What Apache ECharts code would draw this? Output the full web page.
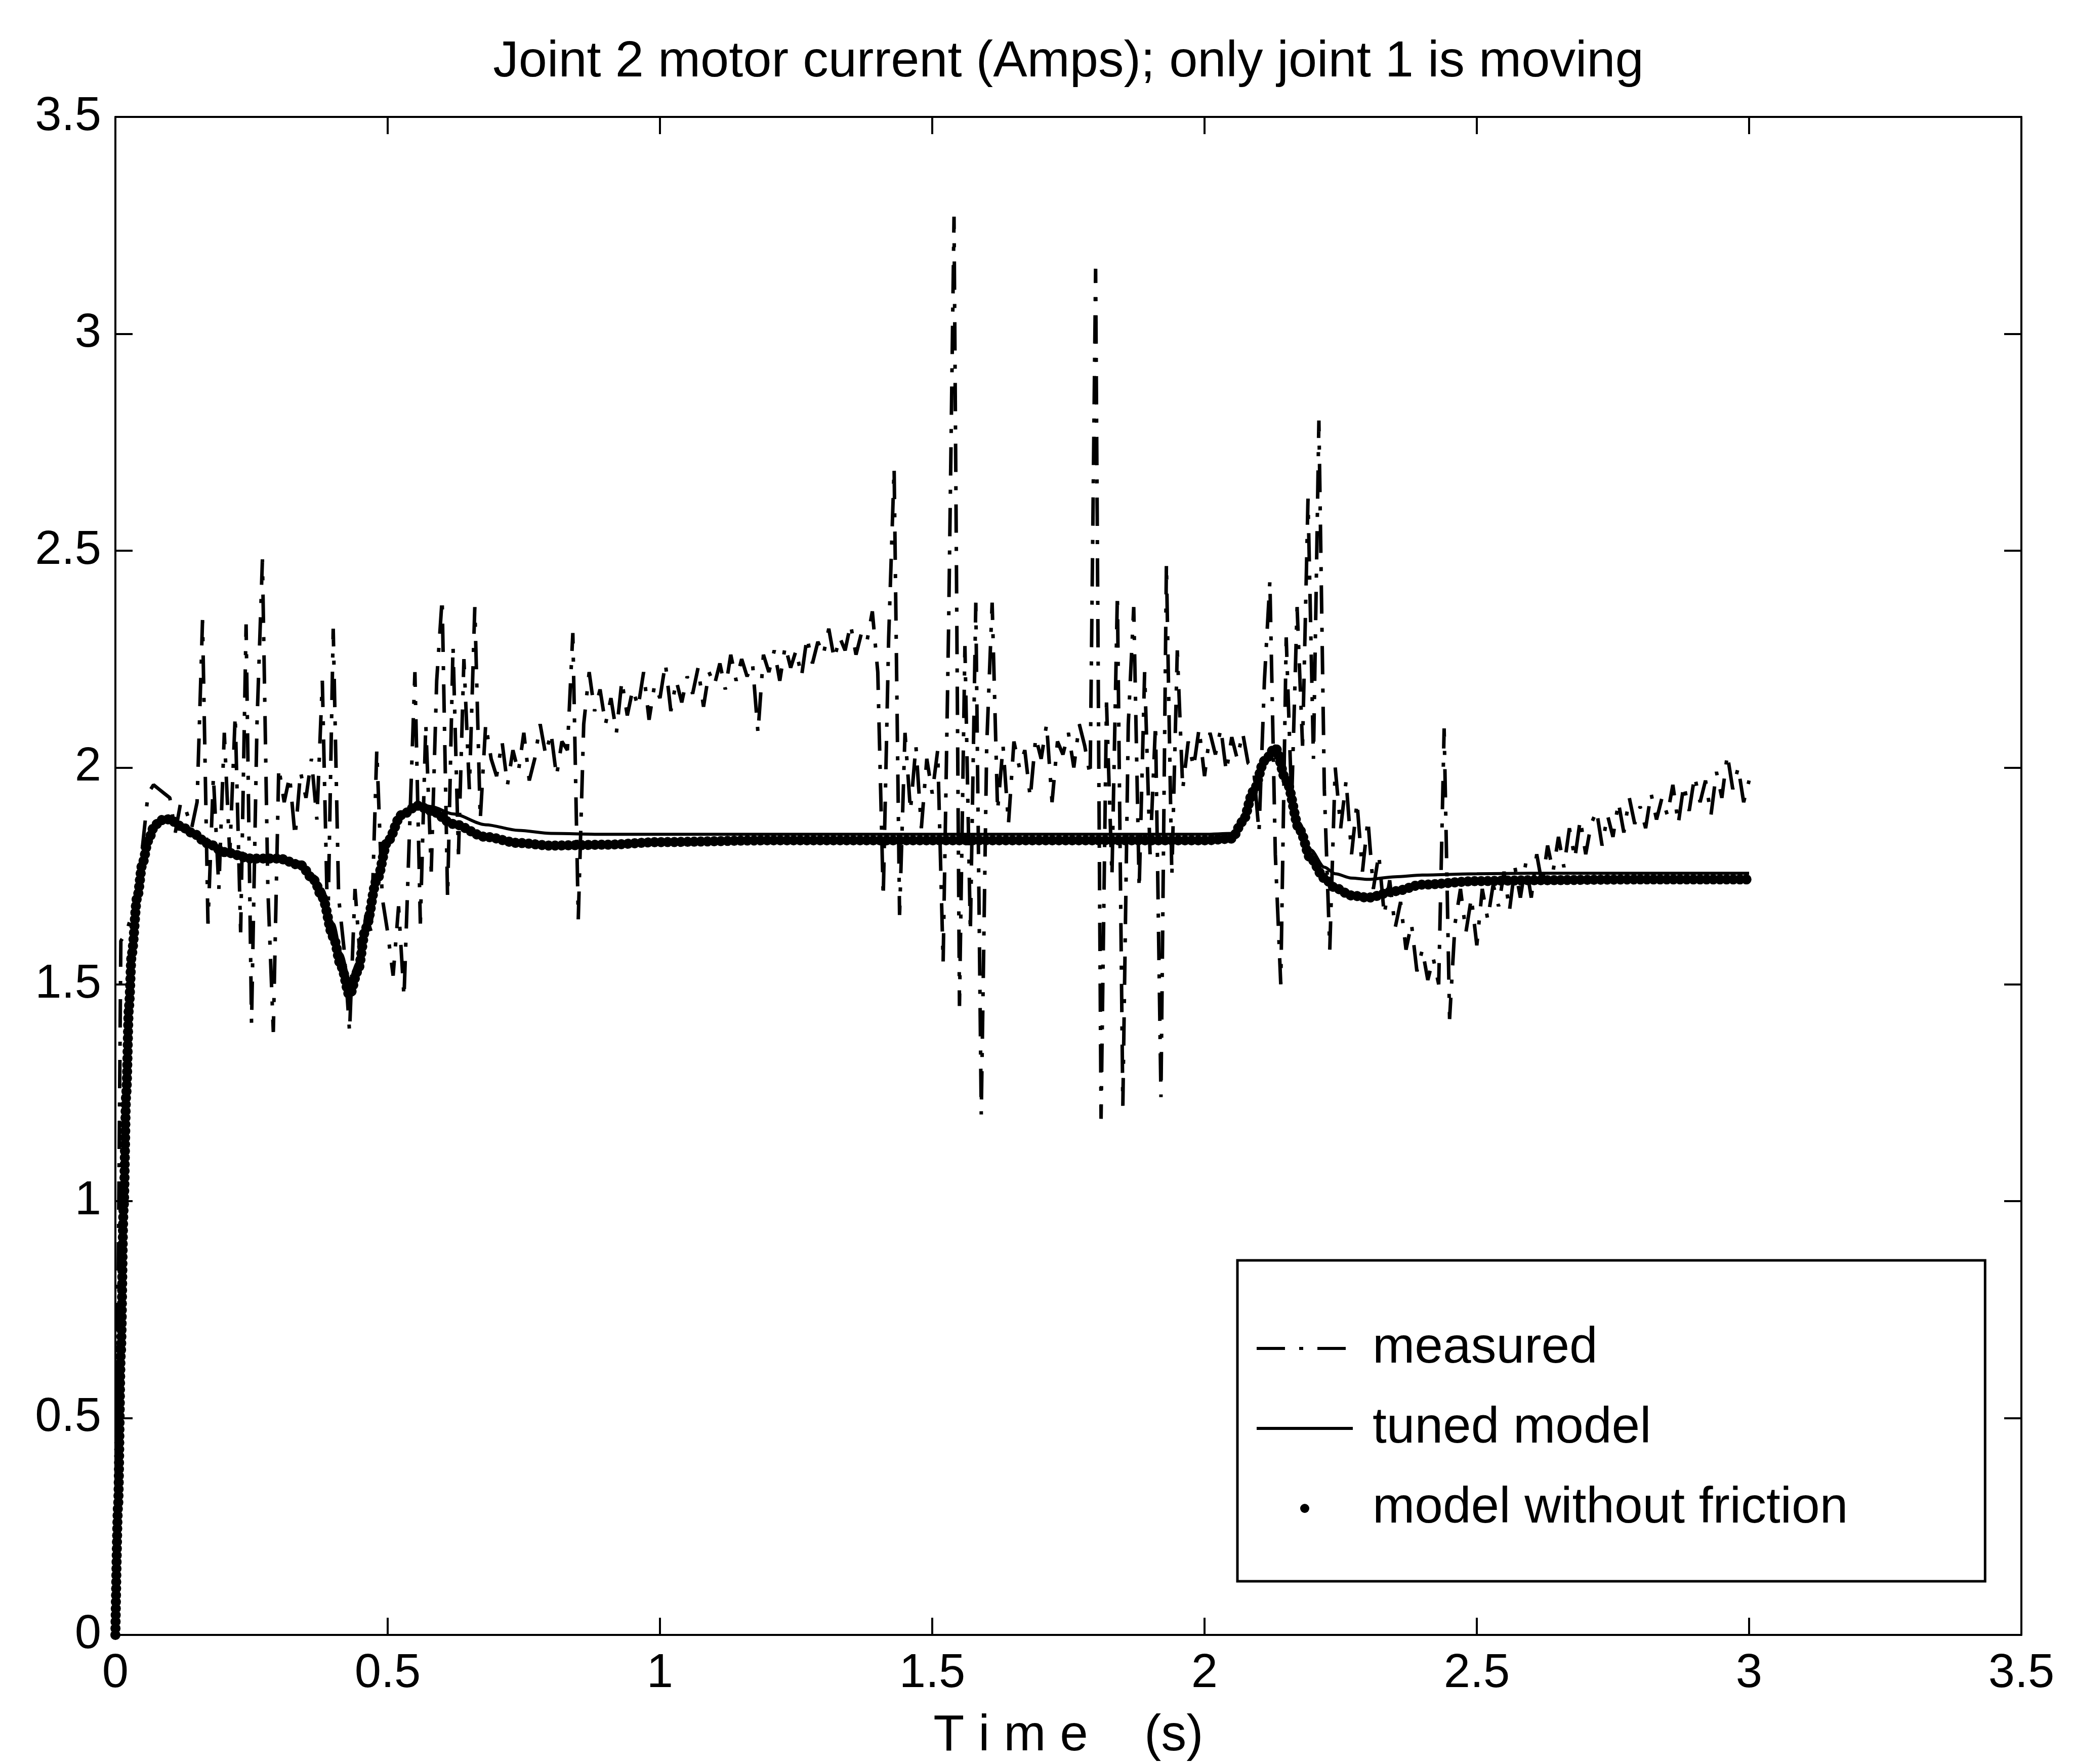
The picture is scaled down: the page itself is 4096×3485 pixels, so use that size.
<!DOCTYPE html>
<html>
<head>
<meta charset="utf-8">
<title>Joint 2 motor current</title>
<script src="https://cdn.jsdelivr.net/npm/echarts@6/dist/echarts.min.js"></script>
<style>
    html, body { margin: 0; padding: 0; background: #fff; }
    #chart { width: 4096px; height: 3485px; }
</style>
</head>
<body>
<div id="chart"></div>
<script>

/* ---------- data ---------- */

// measured current, one sample every 0.01 s from 0 to 3 s
var measStep = 0.01;
var measured = [
    0.00, 1.60, 1.62, 1.66, 1.71, 1.82, 1.94, 1.96, 1.95, 1.94,
    1.93, 1.85, 1.92, 1.90, 1.86, 1.92, 2.34, 1.64, 1.98, 1.72,
    2.08, 1.80, 2.12, 1.62, 2.33, 1.41, 2.10, 2.48, 1.72, 1.39,
    2.00, 1.92, 1.98, 1.84, 1.99, 1.93, 2.02, 1.88, 2.20, 1.62,
    2.32, 1.70, 1.58, 1.39, 1.72, 1.55, 1.66, 1.62, 2.04, 1.70,
    1.62, 1.52, 1.68, 1.47, 1.85, 2.22, 1.64, 2.10, 1.76, 2.20,
    2.39, 1.70, 2.28, 1.80, 2.25, 1.95, 2.37, 1.88, 2.10, 2.02,
    1.98, 2.06, 1.96, 2.04, 1.99, 2.08, 1.97, 2.02, 2.10, 2.03,
    2.08, 1.98, 2.06, 2.04, 2.31, 1.65, 2.10, 2.22, 2.13, 2.18,
    2.10, 2.16, 2.08, 2.20, 2.12, 2.18, 2.14, 2.22, 2.11, 2.19,
    2.16, 2.24, 2.13, 2.20, 2.15, 2.21, 2.17, 2.23, 2.14, 2.22,
    2.19, 2.24, 2.18, 2.26, 2.20, 2.25, 2.21, 2.24, 2.08, 2.26,
    2.22, 2.27, 2.20, 2.28, 2.23, 2.27, 2.21, 2.30, 2.24, 2.29,
    2.26, 2.32, 2.25, 2.30, 2.27, 2.33, 2.26, 2.31, 2.29, 2.36,
    2.22, 1.70, 2.30, 2.69, 1.66, 2.08, 1.90, 2.05, 1.86, 2.02,
    1.94, 2.04, 1.55, 2.32, 3.27, 1.45, 2.28, 1.62, 2.38, 1.20,
    2.05, 2.38, 1.90, 2.05, 1.87, 2.06, 2.00, 2.04, 1.93, 2.07,
    2.02, 2.10, 1.92, 2.06, 2.03, 2.08, 2.00, 2.10, 2.05, 1.98,
    3.15, 1.19, 2.15, 1.75, 2.40, 1.22, 2.10, 2.37, 1.72, 2.22,
    1.80, 2.10, 1.24, 2.47, 1.75, 2.27, 1.95, 2.06, 2.00, 2.09,
    1.98, 2.08, 2.03, 2.09, 1.99, 2.07, 2.02, 2.08, 2.01, 2.00,
    1.85, 2.20, 2.43, 1.80, 1.50, 2.30, 1.92, 2.37, 2.05, 2.62,
    2.02, 2.80, 1.95, 1.58, 2.00, 1.86, 1.97, 1.80, 1.92, 1.76,
    1.88, 1.72, 1.80, 1.66, 1.74, 1.63, 1.69, 1.58, 1.64, 1.53,
    1.58, 1.51, 1.56, 1.50, 2.09, 1.42, 1.64, 1.72, 1.62, 1.70,
    1.59, 1.72, 1.65, 1.73, 1.68, 1.76, 1.67, 1.77, 1.70, 1.78,
    1.70, 1.80, 1.73, 1.82, 1.76, 1.84, 1.77, 1.86, 1.79, 1.88,
    1.80, 1.87, 1.90, 1.82, 1.89, 1.84, 1.92, 1.85, 1.93, 1.87,
    1.91, 1.86, 1.94, 1.88, 1.93, 1.89, 1.96, 1.87, 1.96, 1.90,
    1.98, 1.92, 1.97, 1.89, 1.99, 1.93, 2.03, 1.95, 2.00, 1.92,
    1.97
];

// model outputs, read at these times (s)
var modelTime = [
    0, 0.005, 0.01, 0.015, 0.02, 0.025, 0.03, 0.04, 0.05, 0.06,
    0.07, 0.08, 0.09, 0.1, 0.12, 0.14, 0.17, 0.2, 0.25, 0.3,
    0.34, 0.365, 0.38, 0.4, 0.415, 0.43, 0.445, 0.46, 0.48, 0.5,
    0.525, 0.555, 0.58, 0.62, 0.68, 0.74, 0.8, 0.9, 1.0, 1.2,
    1.5, 1.8, 2.0, 2.05, 2.07, 2.09, 2.11, 2.13, 2.15, 2.175,
    2.195, 2.22, 2.24, 2.27, 2.3, 2.35, 2.4, 2.5, 2.6, 2.8,
    3.0
];
var tunedModel = [
    0.0, 0.35, 0.7, 1.02, 1.28, 1.47, 1.58, 1.70, 1.77, 1.82,
    1.855, 1.872, 1.878, 1.875, 1.857, 1.845, 1.82, 1.80, 1.788, 1.79,
    1.782, 1.75, 1.72, 1.64, 1.57, 1.51, 1.55, 1.64, 1.75, 1.835,
    1.895, 1.917, 1.91, 1.893, 1.868, 1.855, 1.848, 1.846, 1.846, 1.846,
    1.846, 1.846, 1.846, 1.848, 1.88, 1.95, 2.02, 2.05, 1.98, 1.87,
    1.81, 1.77, 1.755, 1.745, 1.742, 1.748, 1.752, 1.755, 1.756, 1.756,
    1.756
];
var noFriction = [
    0.0, 0.30, 0.65, 0.98, 1.25, 1.45, 1.57, 1.70, 1.78, 1.83,
    1.86, 1.875, 1.882, 1.88, 1.865, 1.85, 1.825, 1.805, 1.79, 1.79,
    1.775, 1.74, 1.70, 1.61, 1.54, 1.475, 1.53, 1.63, 1.74, 1.83,
    1.89, 1.912, 1.90, 1.87, 1.84, 1.826, 1.82, 1.822, 1.828, 1.832,
    1.832, 1.832, 1.832, 1.836, 1.875, 1.945, 2.015, 2.045, 1.97, 1.855,
    1.79, 1.745, 1.722, 1.705, 1.70, 1.715, 1.73, 1.738, 1.74, 1.742,
    1.742
];

var axisMin = 0;
var axisMax = 3.5;
var axisStep = 0.5;

/* ---------- build series points ---------- */

var measuredPts = measured.map(function (v, i) {
    return [Math.round(i * measStep * 100) / 100, v];
});
var tunedPts = modelTime.map(function (t, i) { return [t, tunedModel[i]]; });
var noFrictionPts = modelTime.map(function (t, i) { return [t, noFriction[i]]; });

/* ---------- chart ---------- */

var chart = echarts.init(document.getElementById('chart'), null, { renderer: 'canvas' });

var FONT = 'Liberation Sans';
var axisLineStyle = { color: '#000', width: 4 };

function makeAxis(pos, showLabel, extra) {
    var ax = {
        type: 'value',
        position: pos,
        min: axisMin,
        max: axisMax,
        interval: axisStep,
        axisLine: { show: true, onZero: false, lineStyle: axisLineStyle },
        axisTick: { show: true, inside: true, length: 34, lineStyle: axisLineStyle },
        axisLabel: { show: showLabel, color: '#000', fontSize: 94, fontFamily: FONT },
        splitLine: { show: false }
    };
    for (var k in extra) ax[k] = extra[k];
    return ax;
}

var xBottom = makeAxis('bottom', true, {
    name: 'T i m e    (s)',
    nameLocation: 'middle',
    nameGap: 150,
    nameTextStyle: { color: '#000', fontSize: 100, fontFamily: FONT }
});
xBottom.axisLabel.margin = 30;
var yLeft = makeAxis('left', true, {});
yLeft.axisLabel.margin = 28;

var option = {
    animation: false,
    backgroundColor: '#fff',
    textStyle: { fontFamily: FONT, color: '#000' },
    title: {
        text: 'Joint 2 motor current (Amps); only joint 1 is moving',
        left: 2106,
        top: 68,
        textAlign: 'center',
        textStyle: { fontSize: 101, fontWeight: 'normal', color: '#000', fontFamily: FONT }
    },
    grid: { left: 228, right: 102, top: 231, bottom: 254 },
    xAxis: [xBottom, makeAxis('top', false, {})],
    yAxis: [yLeft, makeAxis('right', false, {})],
    legend: {
        orient: 'vertical',
        left: 2445,
        top: 2490,
        padding: [124, 271, 94, 35],
        itemWidth: 190,
        itemHeight: 18,
        itemGap: 58,
        borderColor: '#000',
        borderWidth: 5,
        selectedMode: false,
        lineStyle: { width: 6 },
        textStyle: { fontSize: 100, lineHeight: 100, color: '#000', fontFamily: FONT, padding: [0, 0, 0, 34] },
        data: [
            { name: 'measured', itemStyle: { opacity: 0 } },
            { name: 'tuned model', itemStyle: { opacity: 0 } },
            { name: 'model without friction', icon: 'circle' }
        ]
    },
    series: [
        {
            name: 'measured',
            type: 'line',
            data: measuredPts,
            symbol: 'none',
            color: '#000',
            lineStyle: { color: '#000', width: 7, type: [56, 28, 8, 28] },
            silent: true
        },
        {
            name: 'tuned model',
            type: 'line',
            data: tunedPts,
            symbol: 'none',
            smooth: 0.3,
            smoothMonotone: 'x',
            color: '#000',
            lineStyle: { color: '#000', width: 6, type: 'solid' },
            silent: true
        },
        {
            name: 'model without friction',
            type: 'line',
            data: noFrictionPts,
            symbol: 'none',
            smooth: 0.3,
            smoothMonotone: 'x',
            color: '#000',
            itemStyle: { color: '#000' },
            lineStyle: { color: '#000', width: 20, type: [0.1, 13], cap: 'round' },
            silent: true
        }
    ]
};

chart.setOption(option);

</script>
</body>
</html>
